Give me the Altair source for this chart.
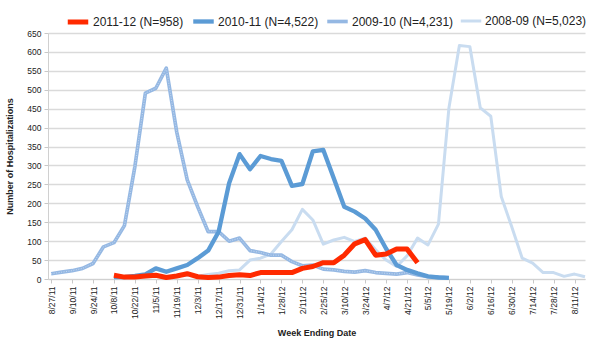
import altair as alt
import pandas as pd

# Week index 0 = week ending 8/27/11, one step per week through 8/18/12
tick_labels = ["8/27/11", "9/10/11", "9/24/11", "10/8/11", "10/22/11", "11/5/11",
               "11/19/11", "12/3/11", "12/17/11", "12/31/11", "1/14/12", "1/28/12",
               "2/11/12", "2/25/12", "3/10/12", "3/24/12", "4/7/12", "4/21/12",
               "5/5/12", "5/19/12", "6/2/12", "6/16/12", "6/30/12", "7/14/12",
               "7/28/12", "8/11/12"]

seasons = ["2011-12 (N=958)", "2010-11 (N=4,522)", "2009-10 (N=4,231)", "2008-09 (N=5,023)"]
colors = ["#FF2A00", "#5B9BD5", "#95B8E3", "#C9DCF0"]
widths = [5, 3, 3, 3]

# Weekly hospitalizations per season, with the week index of each season's first value
s2011_start = 6
s2011 = [10, 5, 5, 8, 10, 4, 8, 14, 6, 4, 5, 9, 11, 9, 17, 17, 17, 17, 28, 33,
         43, 43, 63, 93, 104, 63, 66, 79, 79, 43]

s2010_start = 6
s2010 = [5, 5, 8, 12, 28, 19, 28, 37, 55, 75, 125, 253, 330, 290, 325, 317, 312,
         246, 251, 337, 341, 266, 191, 178, 160, 130, 80, 37, 24, 15, 7, 4, 3]

s2009_start = 0
s2009 = [14, 18, 22, 28, 41, 85, 96, 141, 297, 491, 504, 557, 388, 262, 191, 125,
         125, 100, 108, 75, 70, 63, 63, 46, 35, 37, 26, 24, 20, 18, 22, 17, 15, 13,
         17, 11, 6, 5, 3]

s2008_start = 6
s2008 = [3, 3, 5, 5, 8, 3, 10, 10, 7, 12, 15, 22, 24, 50, 55, 66, 99, 130, 184,
         156, 92, 103, 110, 99, 108, 77, 50, 33, 61, 108, 90, 145, 452, 617, 614,
         452, 430, 218, 138, 55, 42, 17, 17, 7, 13, 6]

rows = []
for name, start, vals in [(seasons[0], s2011_start, s2011),
                          (seasons[1], s2010_start, s2010),
                          (seasons[2], s2009_start, s2009),
                          (seasons[3], s2008_start, s2008)]:
    for k, v in enumerate(vals):
        rows.append({"week": start + k, "count": v, "season": name})
df = pd.DataFrame(rows)

label_expr = "[" + ",".join(f"'{t}'" for t in tick_labels) + "][round(datum.value / 2)]"

x_enc = alt.X("week:Q",
              scale=alt.Scale(domain=[-0.3, 51], nice=False, zero=False),
              axis=alt.Axis(values=list(range(0, 51, 2)), labelExpr=label_expr,
                            labelAngle=270, labelAlign="right", labelBaseline="middle",
                            labelFontSize=8.5, labelColor="#222222", labelPadding=3,
                            tickColor="#C8C8C8", tickSize=4, domainColor="#D0D0D0",
                            grid=False, title="Week Ending Date", titleFontSize=9,
                            titleFontWeight="bold", titlePadding=10, titleColor="#222222"))
y_enc = alt.Y("count:Q",
              scale=alt.Scale(domain=[0, 650], nice=False),
              axis=alt.Axis(values=list(range(0, 651, 50)), labelFontSize=8.5,
                            labelColor="#222222", labelPadding=3, tickColor="#C8C8C8",
                            tickSize=4, domainColor="#D0D0D0", gridColor="#DADADA",
                            gridWidth=1.3, title="Number of Hospitalizations",
                            titleFontSize=9, titleFontWeight="bold", titlePadding=12,
                            titleColor="#222222"))

legend_props = dict(title=None, orient="none", direction="horizontal",
                    legendX=17, legendY=-24, symbolType="stroke",
                    symbolSize=420, labelFontSize=12, labelColor="#222222",
                    labelOffset=2, columnPadding=0, gridAlign="none")
color_enc = alt.Color("season:N", scale=alt.Scale(domain=seasons, range=colors),
                      legend=alt.Legend(**legend_props))
width_enc = alt.StrokeWidth("season:N", scale=alt.Scale(domain=seasons, range=widths),
                            legend=alt.Legend(**legend_props))

base = alt.Chart(df)
layers = []
for name in reversed(seasons):
    layers.append(
        base.transform_filter(alt.datum.season == name)
        .mark_line(strokeJoin="round", strokeCap="butt")
        .encode(x=x_enc, y=y_enc, color=color_enc, strokeWidth=width_enc)
    )
    if name == seasons[2]:
        # fine light dotting along the 2009-10 line
        layers.append(
            base.transform_filter(alt.datum.season == name)
            .mark_line(color="white", strokeWidth=1, strokeDash=[1, 1.5], opacity=0.45)
            .encode(x=x_enc, y=y_enc)
        )

chart = alt.layer(*layers).properties(
    width=537, height=246,
    autosize=alt.AutoSizeParams(type="none"),
    padding={"left": 48, "top": 33, "right": 15, "bottom": 71},
).configure(font="Liberation Sans").configure_view(stroke=None)

chart.save("out.html", embed_options={"renderer": "svg", "actions": False})
